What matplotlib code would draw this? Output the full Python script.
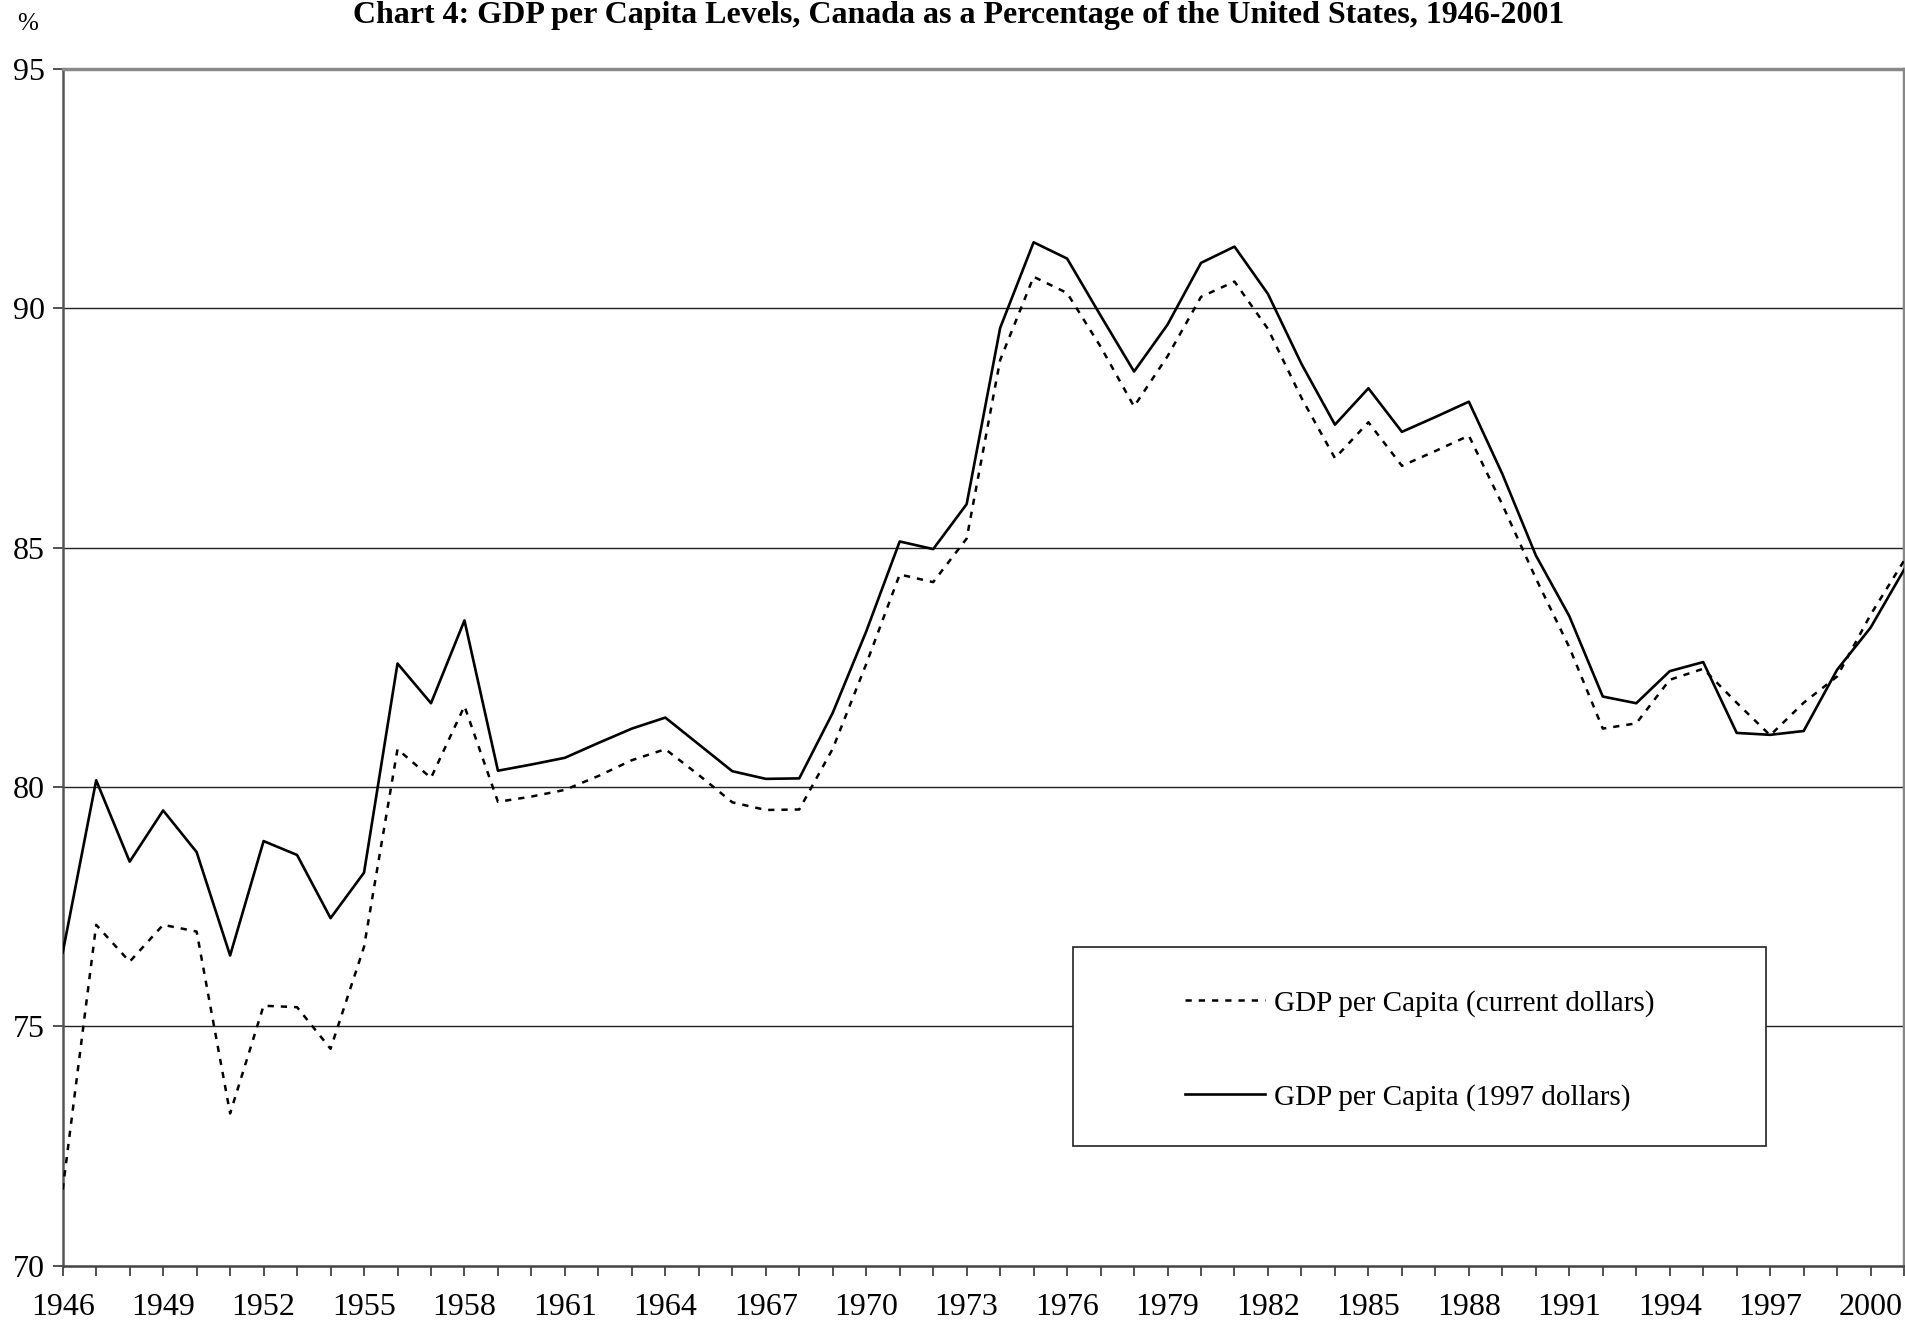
import matplotlib
matplotlib.use("Agg")
import matplotlib.pyplot as plt
from matplotlib.patches import Rectangle

plt.rcParams['font.family'] = ['Liberation Serif', 'DejaVu Serif']

years = list(range(1946, 2002))
# Canada as % of US, current dollars (dotted)
gdp_current = [71.59, 77.12, 76.35, 77.12, 76.98, 73.18, 75.43, 75.40, 74.53, 76.66,
               80.79, 80.19, 81.69, 79.69, 79.80, 79.94, 80.23, 80.56, 80.79, 80.25,
               79.68, 79.52, 79.53, 80.80, 82.57, 84.44, 84.28, 85.19, 88.92, 90.66,
               90.32, 89.20, 87.95, 89.00, 90.24, 90.56, 89.57, 88.13, 86.87, 87.62,
               86.71, 87.02, 87.34, 85.90, 84.36, 82.92, 81.22, 81.33, 82.24, 82.47,
               81.76, 81.08, 81.76, 82.31, 83.60, 84.73]
# Canada as % of US, 1997 dollars (solid)
gdp_1997 = [76.54, 80.14, 78.44, 79.51, 78.64, 76.48, 78.87, 78.58, 77.26, 78.21,
            82.58, 81.75, 83.48, 80.34, 80.47, 80.61, 80.92, 81.22, 81.45, 80.89,
            80.33, 80.17, 80.18, 81.55, 83.25, 85.13, 84.97, 85.91, 89.59, 91.38,
            91.04, 89.85, 88.68, 89.66, 90.95, 91.29, 90.30, 88.84, 87.57, 88.33,
            87.42, 87.73, 88.05, 86.54, 84.84, 83.57, 81.89, 81.75, 82.42, 82.61,
            81.13, 81.09, 81.17, 82.45, 83.33, 84.54]
label_years = list(range(1946, 2001, 3))
y_ticks = [70, 75, 80, 85, 90, 95]

fig = plt.figure(figsize=(19.06, 13.25), dpi=100)
ax = fig.add_axes([0.0329, 0.0448, 0.9661, 0.9031])

ax.plot(years, gdp_current, color='black', lw=1.8, linestyle=(0, (2.5, 2.8)),
        label='GDP per Capita (current dollars)', zorder=4)
ax.plot(years, gdp_1997, color='black', lw=1.9,
        label='GDP per Capita (1997 dollars)', zorder=4)

ax.set_xlim(1946, 2001)
ax.set_ylim(70, 95)
ax.set_yticks(y_ticks)
ax.set_xticks(years, minor=True)
ax.set_xticks(label_years)
ax.tick_params(axis='both', labelsize=23, direction='out', length=7, width=1.2, color='#333333')
ax.tick_params(axis='x', which='minor', length=7, width=1.2, color='#333333')
ax.tick_params(axis='x', pad=13)
ax.tick_params(axis='y', pad=6)

for y in [75, 80, 85, 90]:
    ax.axhline(y, color='#222222', lw=1.0, zorder=1)

ax.spines['left'].set_color('#555555')
ax.spines['left'].set_linewidth(1.8)
ax.spines['bottom'].set_color('#444444')
ax.spines['bottom'].set_linewidth(1.8)
ax.spines['top'].set_color('#888888')
ax.spines['top'].set_linewidth(2.5)
ax.spines['right'].set_color('#888888')
ax.spines['right'].set_linewidth(2.5)

# legend box
ax.add_patch(Rectangle((0.5487, 0.100), 0.3763, 0.166, transform=ax.transAxes,
                       facecolor='white', edgecolor='#222222', lw=1.2, zorder=3))
ax.legend(loc='center left', bbox_to_anchor=(0.6095, 0.180), frameon=False,
          fontsize=21, borderpad=0, borderaxespad=0, handlelength=2.75,
          handletextpad=0.3, labelspacing=2.3)

fig.text(0.503, 0.9880, 'Chart 4: GDP per Capita Levels, Canada as a Percentage of the United States, 1946-2001',
         ha='center', va='center', fontsize=23, fontweight='bold')
fig.text(0.0142, 0.982, '%', ha='center', va='center', fontsize=18)

fig.savefig('out.png', dpi=100)
